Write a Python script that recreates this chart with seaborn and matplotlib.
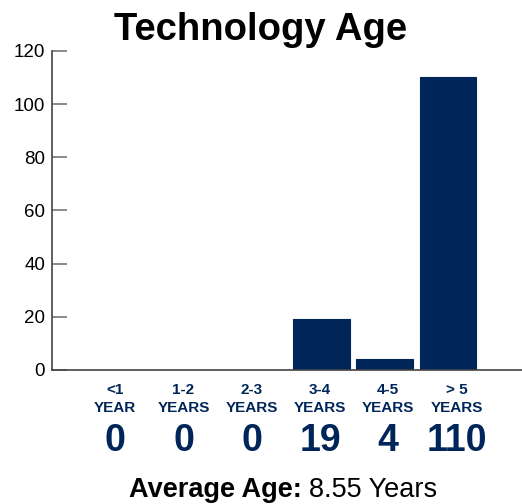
import matplotlib
matplotlib.use("Agg")
import matplotlib.pyplot as plt
import matplotlib.transforms as mtransforms
import seaborn as sns

# Data
categories = ["<1\nYEAR", "1-2\nYEARS", "2-3\nYEARS", "3-4\nYEARS", "4-5\nYEARS", "> 5\nYEARS"]
counts = [0, 0, 0, 19, 4, 110]
average_age = 8.55

navy = "#002559"

sns.set_theme(style="white")
plt.rcParams["font.family"] = ["Liberation Sans", "DejaVu Sans"]

fig = plt.figure(figsize=(5.22, 5.04), dpi=100)
ax = fig.add_axes([0.0996, 0.266, 0.9004, 0.633])

sns.barplot(x=list(range(len(counts))), y=counts, color=navy, width=0.9,
            saturation=1, edgecolor=navy, linewidth=0.8, ax=ax)

ax.set_xlim(-1.26, 6.17)
ax.set_ylim(0, 120)
ax.set_yticks(range(0, 121, 20))
ax.tick_params(axis="y", left=True, direction="in", length=11, width=1.2,
               color="#777777", labelsize=13.5, labelcolor="black", pad=5)
ax.set_xticks([])
ax.set_xlabel("")
for side in ["top", "right"]:
    ax.spines[side].set_visible(False)
for side in ["left", "bottom"]:
    ax.spines[side].set_color("#444444")
    ax.spines[side].set_linewidth(1.2)

# category labels and counts below the axis
trans = mtransforms.blended_transform_factory(ax.transData, ax.transAxes)
for i, (cat, n) in enumerate(zip(categories, counts)):
    lx = -0.26 + i * 1.079
    ax.text(lx, -0.04, cat, transform=trans, ha="center", va="top",
            fontsize=11, fontweight="bold", color=navy, linespacing=1.35)
    ax.text(lx, -0.222, str(n), transform=trans, ha="center", va="center",
            fontsize=27, fontweight="bold", color=navy)

fig.text(0.5, 0.94, "Technology Age", ha="center", va="center",
         fontsize=27.5, fontweight="bold", color="black")

fig.text(0.579, 0.027, "Average Age:", ha="right", va="center",
         fontsize=19.5, fontweight="bold", color="black")
fig.text(0.591, 0.027, f"{average_age:.2f} Years", ha="left", va="center",
         fontsize=19.5, color="black")

fig.savefig("out.png", dpi=100)
